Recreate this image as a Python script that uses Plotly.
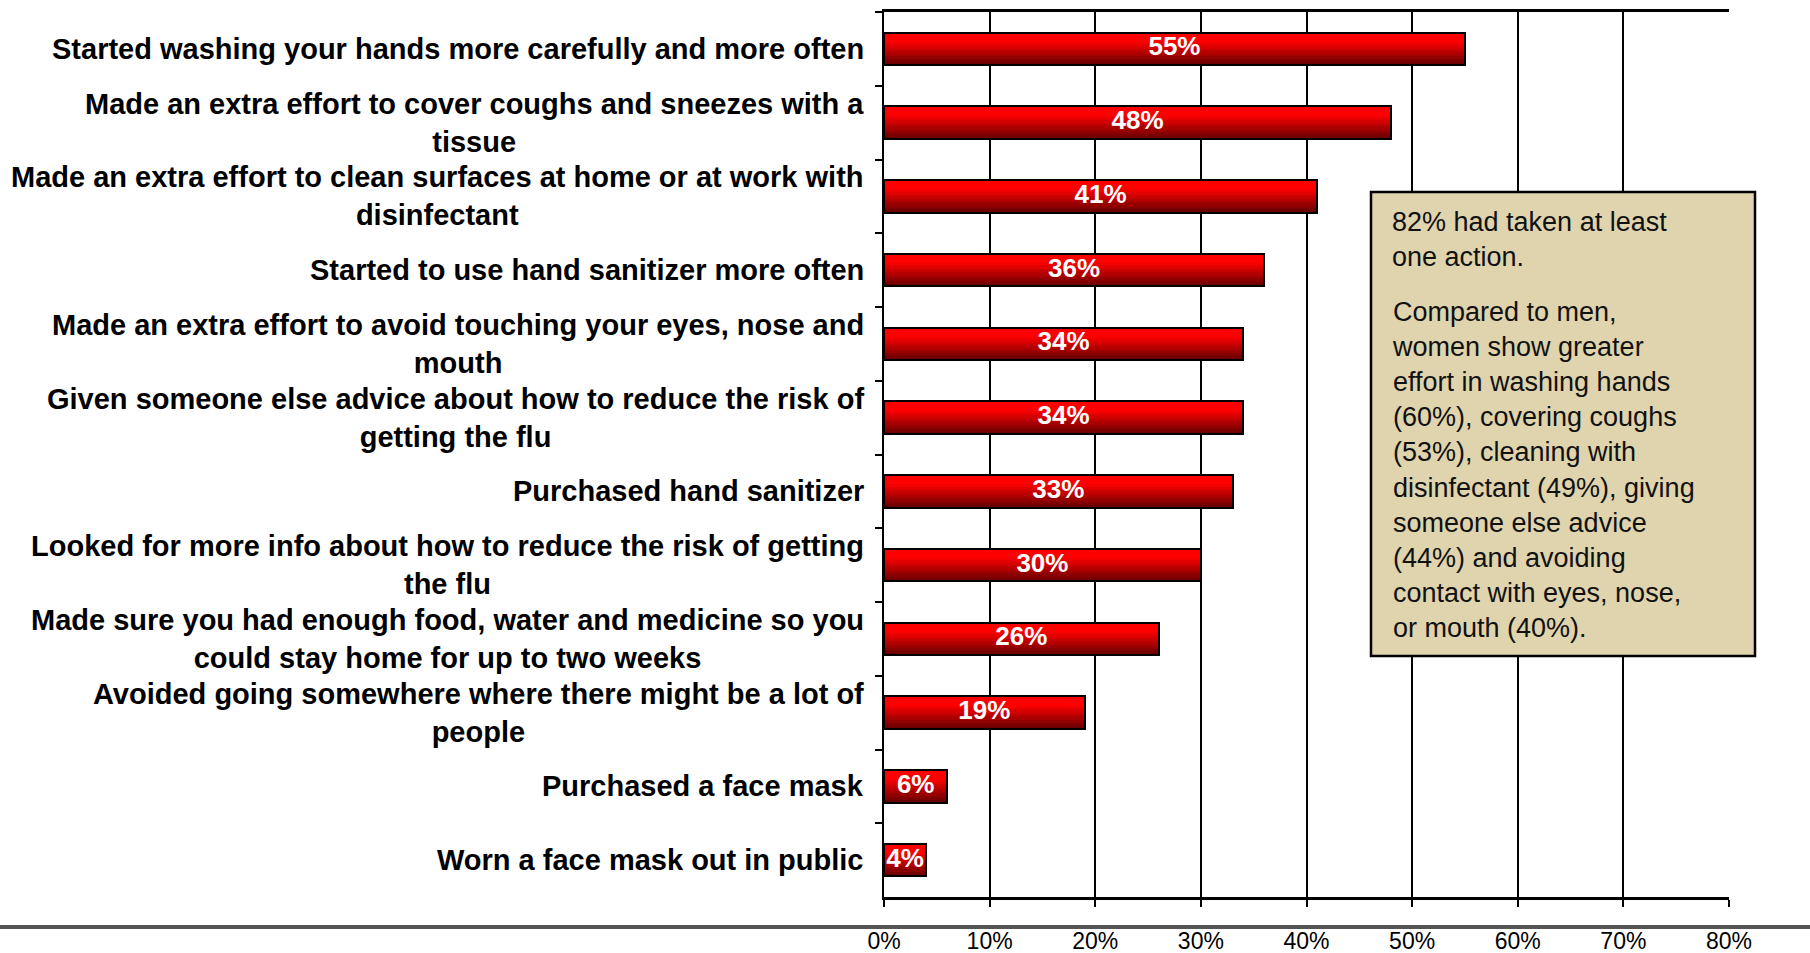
import plotly.graph_objects as go

categories = [
    "Started washing your hands more carefully and more often",
    "Made an extra effort to cover coughs and sneezes with a<br>tissue",
    "Made an extra effort to clean surfaces at home or at work with<br>disinfectant",
    "Started to use hand sanitizer more often",
    "Made an extra effort to avoid touching your eyes, nose and<br>mouth",
    "Given someone else advice about how to reduce the risk of<br>getting the flu",
    "Purchased hand sanitizer",
    "Looked for more info about how to reduce the risk of getting<br>the flu",
    "Made sure you had enough food, water and medicine so you<br>could stay home for up to two weeks",
    "Avoided going somewhere where there might be a lot of<br>people",
    "Purchased a face mask",
    "Worn a face mask out in public",
]
values = [55, 48, 41, 36, 34, 34, 33, 30, 26, 19, 6, 4]
x_ticks = [0, 10, 20, 30, 40, 50, 60, 70, 80]
x_tick_labels = ["0%", "10%", "20%", "30%", "40%", "50%", "60%", "70%", "80%"]
note_para1 = "82% had taken at least<br>one action."
note_para2 = ("Compared to men,<br>women show greater<br>effort in washing hands<br>"
              "(60%), covering coughs<br>(53%), cleaning with<br>disinfectant (49%), giving<br>"
              "someone else advice<br>(44%) and avoiding<br>contact with eyes, nose,<br>or mouth (40%).")

ids = [f"c{i}" for i in range(len(categories))]

L, R, T, B = 884, 1729, 12, 897
PW, PH = R - L, B - T

fig = go.Figure()

# gradient bars built from stacked stripes
N = 14
bw = 0.44
top_rgb = (255, 0, 0)
bot_rgb = (105, 0, 0)
for i in range(N):
    t = i / (N - 1)
    tt = max(0.0, (t - 0.25) / 0.75)
    c = tuple(int(round(top_rgb[k] + (bot_rgb[k] - top_rgb[k]) * tt)) for k in range(3))
    fig.add_trace(go.Bar(
        x=values, y=ids, orientation="h",
        width=bw / N + 0.002, offset=-bw / 2 + i * bw / N,
        marker=dict(color=f"rgb{c}", line=dict(width=0)),
        showlegend=False, hoverinfo="skip",
    ))

# outline
fig.add_trace(go.Bar(
    x=values, y=ids, orientation="h", width=bw, offset=-bw / 2,
    marker=dict(color="rgba(0,0,0,0)", line=dict(color="black", width=2)),
    showlegend=False, hoverinfo="skip",
))

# value labels
fig.add_trace(go.Scatter(
    x=[v / 2 for v in values], y=ids, mode="text",
    text=[f"{v}%" for v in values],
    textfont=dict(family="Liberation Sans Narrow, Arial Narrow, Liberation Sans", size=26,
                  color="white", weight="bold"),
    showlegend=False, hoverinfo="skip",
))

# category labels as annotations (centered lines)
for cid, lab in zip(ids, categories):
    fig.add_annotation(
        x=0, xref="paper", y=cid, yref="y", xanchor="right", yanchor="middle",
        xshift=-18, align="center", showarrow=False, text=f"<b>{lab}</b>",
        font=dict(family="Liberation Sans, Arial", size=29, color="black"),
    )

# note box
fig.add_shape(type="rect", xref="paper", yref="paper",
              x0=(1371 - L) / PW, x1=(1755 - L) / PW,
              y0=(B - 656) / PH, y1=(B - 192) / PH,
              fillcolor="#DFD4AE", line=dict(color="black", width=2.5), layer="above")
fig.add_annotation(x=(1390 - L) / PW, xref="paper", y=(B - 239) / PH, yref="paper",
                   xanchor="left", yanchor="middle", align="left", showarrow=False,
                   text=note_para1, font=dict(family="Liberation Sans, Arial", size=27, color="#111"))
fig.add_annotation(x=(1390 - L) / PW, xref="paper", y=(B - 470) / PH, yref="paper",
                   xanchor="left", yanchor="middle", align="left", showarrow=False,
                   text=note_para2, font=dict(family="Liberation Sans, Arial", size=27, color="#111"))

# separator line across the slide
fig.add_shape(type="line", xref="paper", yref="paper",
              x0=-L / PW, x1=(1810 - L) / PW,
              y0=(B - 927) / PH, y1=(B - 927) / PH,
              line=dict(color="#555555", width=4))

fig.update_layout(
    width=1810, height=953,
    margin=dict(l=L, r=1810 - R, t=T, b=953 - B, autoexpand=False),
    paper_bgcolor="white", plot_bgcolor="white",
    barmode="overlay", bargap=0,
    xaxis=dict(range=[0, 80], tickvals=x_ticks, ticktext=x_tick_labels,
               showgrid=True, gridcolor="black", gridwidth=1.5,
               showline=True, linecolor="black", linewidth=2.5, mirror=True,
               ticks="outside", ticklen=7, tickwidth=2, tickcolor="black",
               ticklabelstandoff=15, automargin=False,
               tickfont=dict(family="Liberation Sans Narrow, Arial Narrow, Liberation Sans", size=23, color="black"),
               zeroline=False, fixedrange=True),
    yaxis=dict(type="category", categoryorder="array", categoryarray=ids,
               range=[len(ids) - 0.5, -0.5], showticklabels=False, automargin=False,
               showline=True, linecolor="black", linewidth=2, mirror=False,
               ticks="outside", tickson="boundaries", ticklen=7, tickwidth=2, tickcolor="black",
               showgrid=False, fixedrange=True),
)

fig.write_html("out.html", config={"displayModeBar": False},
               post_script="document.body.style.margin='0px';")
